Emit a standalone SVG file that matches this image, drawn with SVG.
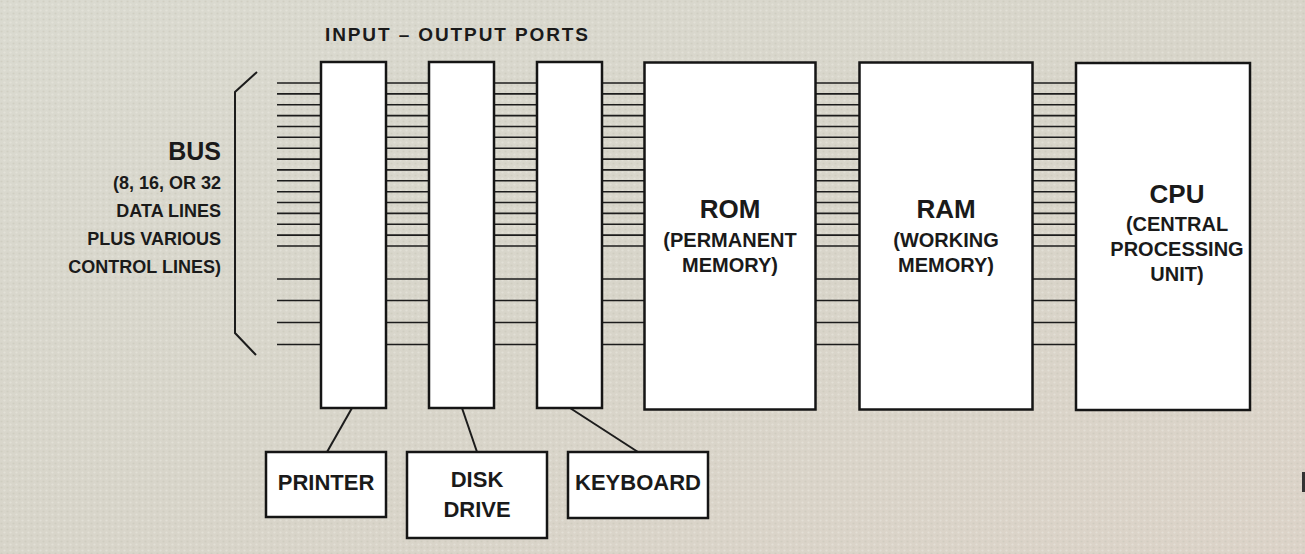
<svg xmlns="http://www.w3.org/2000/svg" width="1305" height="554" viewBox="0 0 1305 554">
<defs>
<linearGradient id="bg" x1="0" y1="0" x2="1" y2="1">
<stop offset="0" stop-color="#dadad0"/>
<stop offset="0.5" stop-color="#d8d5ca"/>
<stop offset="1" stop-color="#dcd3c8"/>
</linearGradient>
<pattern id="dots" width="6" height="6" patternUnits="userSpaceOnUse">
<circle cx="1.5" cy="1.5" r="1.1" fill="#c6c3b6" opacity="0.5"/>
<circle cx="4.5" cy="4.5" r="1.1" fill="#ebeae2" opacity="0.5"/>
</pattern>
</defs>
<style>
.box{fill:#ffffff;stroke:#151515;stroke-width:2.5}
.bus{stroke:#1c1c1c;stroke-width:1.6}
.wire{stroke:#1c1c1c;stroke-width:2;fill:none}
text{font-family:"Liberation Sans",Arial,sans-serif;font-weight:bold;fill:#1a1a1a}
.big{font-size:26px}
.mid{font-size:20px}
.dev{font-size:22px}
.bus-t{font-size:18px}
</style>
<rect x="0" y="0" width="1305" height="554" fill="url(#bg)"/>
<rect x="0" y="0" width="1305" height="554" fill="url(#dots)"/>

<text x="325" y="41" font-size="19" textLength="263" lengthAdjust="spacing">INPUT – OUTPUT PORTS</text>

<g id="bus-label">
<path class="wire" d="M257,72 L235,92 L235,333 L256,355"/>
<text x="221" y="160" text-anchor="end" style="font-size:25px">BUS</text>
<text class="bus-t" x="221" y="189" text-anchor="end">(8, 16, OR 32</text>
<text class="bus-t" x="221" y="217" text-anchor="end">DATA LINES</text>
<text class="bus-t" x="221" y="245" text-anchor="end">PLUS VARIOUS</text>
<text class="bus-t" x="221" y="273" text-anchor="end">CONTROL LINES)</text>
</g>

<g id="connectors">
<g class="bus">
<line x1="277" y1="83" x2="1076" y2="83"/>
<line x1="277" y1="93.9" x2="1076" y2="93.9"/>
<line x1="277" y1="104.7" x2="1076" y2="104.7"/>
<line x1="277" y1="115.6" x2="1076" y2="115.6"/>
<line x1="277" y1="126.5" x2="1076" y2="126.5"/>
<line x1="277" y1="137.3" x2="1076" y2="137.3"/>
<line x1="277" y1="148.2" x2="1076" y2="148.2"/>
<line x1="277" y1="159.1" x2="1076" y2="159.1"/>
<line x1="277" y1="169.9" x2="1076" y2="169.9"/>
<line x1="277" y1="180.8" x2="1076" y2="180.8"/>
<line x1="277" y1="191.7" x2="1076" y2="191.7"/>
<line x1="277" y1="202.5" x2="1076" y2="202.5"/>
<line x1="277" y1="213.4" x2="1076" y2="213.4"/>
<line x1="277" y1="224.3" x2="1076" y2="224.3"/>
<line x1="277" y1="235.1" x2="1076" y2="235.1"/>
<line x1="277" y1="246" x2="1076" y2="246"/>
<line x1="277" y1="279" x2="1076" y2="279"/>
<line x1="277" y1="300.5" x2="1076" y2="300.5"/>
<line x1="277" y1="322.5" x2="1076" y2="322.5"/>
<line x1="277" y1="344.5" x2="1076" y2="344.5"/>
</g>
<line class="wire" x1="352" y1="408" x2="327" y2="452"/>
<line class="wire" x1="462" y1="408" x2="477" y2="452"/>
<line class="wire" x1="570" y1="408" x2="638" y2="452"/>
</g>

<g id="port1"><rect class="box" x="321" y="62" width="65" height="346"/></g>
<g id="port2"><rect class="box" x="429" y="62" width="65" height="346"/></g>
<g id="port3"><rect class="box" x="537" y="62" width="65" height="346"/></g>

<g id="rom">
<rect class="box" x="644.5" y="62.5" width="171" height="347"/>
<text class="big" x="730" y="218" text-anchor="middle">ROM</text>
<text class="mid" x="730" y="247" text-anchor="middle">(PERMANENT</text>
<text class="mid" x="730" y="272" text-anchor="middle">MEMORY)</text>
</g>
<g id="ram">
<rect class="box" x="859.5" y="62.5" width="173" height="347"/>
<text class="big" x="946" y="218" text-anchor="middle">RAM</text>
<text class="mid" x="946" y="247" text-anchor="middle">(WORKING</text>
<text class="mid" x="946" y="272" text-anchor="middle">MEMORY)</text>
</g>
<g id="cpu">
<rect class="box" x="1076" y="63" width="174" height="347"/>
<text class="big" x="1177" y="203" text-anchor="middle">CPU</text>
<text class="mid" x="1177" y="231" text-anchor="middle">(CENTRAL</text>
<text class="mid" x="1177" y="256" text-anchor="middle">PROCESSING</text>
<text class="mid" x="1177" y="281" text-anchor="middle">UNIT)</text>
</g>

<g id="printer">
<rect class="box" x="266" y="452" width="120" height="65"/>
<text class="dev" x="326" y="490" text-anchor="middle">PRINTER</text>
</g>
<g id="disk-drive">
<rect class="box" x="407" y="452" width="140" height="86"/>
<text class="dev" x="477" y="487" text-anchor="middle">DISK</text>
<text class="dev" x="477" y="517" text-anchor="middle">DRIVE</text>
</g>
<g id="keyboard">
<rect class="box" x="568" y="452" width="140" height="66"/>
<text class="dev" x="638" y="490" text-anchor="middle">KEYBOARD</text>
</g>

<rect x="1302" y="472" width="3" height="20" fill="#333"/>
</svg>
